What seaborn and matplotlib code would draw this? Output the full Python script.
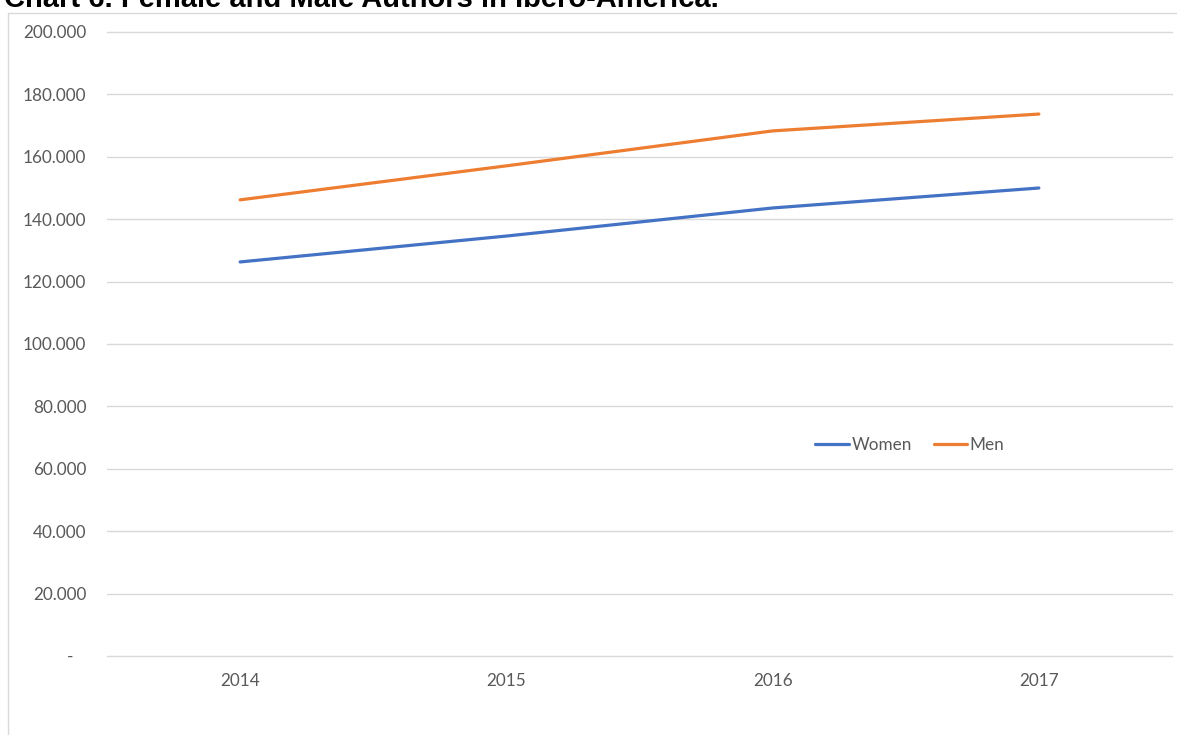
import matplotlib
matplotlib.use("Agg")
import matplotlib.pyplot as plt
from matplotlib.patches import Rectangle
from matplotlib.ticker import FuncFormatter
import pandas as pd
import seaborn as sns

years = ["2014", "2015", "2016", "2017"]
women = [126300, 134600, 143600, 150000]
men = [146200, 157100, 168300, 173700]
series_names = ["Women", "Men"]
series_colors = ["#4472C4", "#ED7D31"]
y_ticks = [0, 20000, 40000, 60000, 80000, 100000, 120000, 140000, 160000, 180000, 200000]
title = "Chart 6. Female and Male Authors in Ibero-America."

df = pd.DataFrame({
    "Year": years * 2,
    "Authors": women + men,
    "Group": [series_names[0]] * len(years) + [series_names[1]] * len(years),
})

sns.set_theme(style="white")
plt.rcParams["font.family"] = ["Lato", "DejaVu Sans"]

fig = plt.figure(figsize=(11.77, 7.35), dpi=100)
ax = fig.add_axes([107 / 1177, 1 - 656 / 735, (1172 - 107) / 1177, 624 / 735])

# outer chart frame
fig.patches.append(Rectangle((8 / 1177, -0.1), 1.2, 1 - 13 / 735 + 0.1,
                             transform=fig.transFigure, fill=False,
                             edgecolor="#d9d9d9", linewidth=1.0, zorder=0))

sns.lineplot(data=df, x="Year", y="Authors", hue="Group", hue_order=series_names,
             palette=series_colors, linewidth=2.3, sort=False, ax=ax, legend=True)

ax.set_xlim(-0.5, 3.5)
ax.set_ylim(0, 200000)
ax.set_yticks(y_ticks)
ax.yaxis.set_major_formatter(FuncFormatter(
    lambda v, p: "-   " if v == 0 else f"{int(v):,}".replace(",", ".")))
ax.grid(axis="y", color="#d9d9d9", linewidth=1.0)
for gl in ax.get_ygridlines():
    gl.set_clip_on(False)
ax.set_axisbelow(True)
for s in ax.spines.values():
    s.set_visible(False)
ax.tick_params(axis="both", length=0, labelsize=12.3, labelcolor="#595959")
ax.tick_params(axis="y", pad=15)
ax.tick_params(axis="x", pad=12)
ax.set_xlabel("")
ax.set_ylabel("")

leg = ax.legend(loc="center", bbox_to_anchor=(0.754, 0.338), ncol=2, frameon=False,
                fontsize=12.3, handlelength=1.95, columnspacing=1.3, handletextpad=0.15)
for t in leg.get_texts():
    t.set_color("#595959")

fig.text(4 / 1177, 1 - 7 / 735, title, fontsize=21, fontweight="bold",
         family=["Liberation Sans", "DejaVu Sans"], ha="left", va="baseline", color="black")

fig.savefig("out.png", dpi=100)
